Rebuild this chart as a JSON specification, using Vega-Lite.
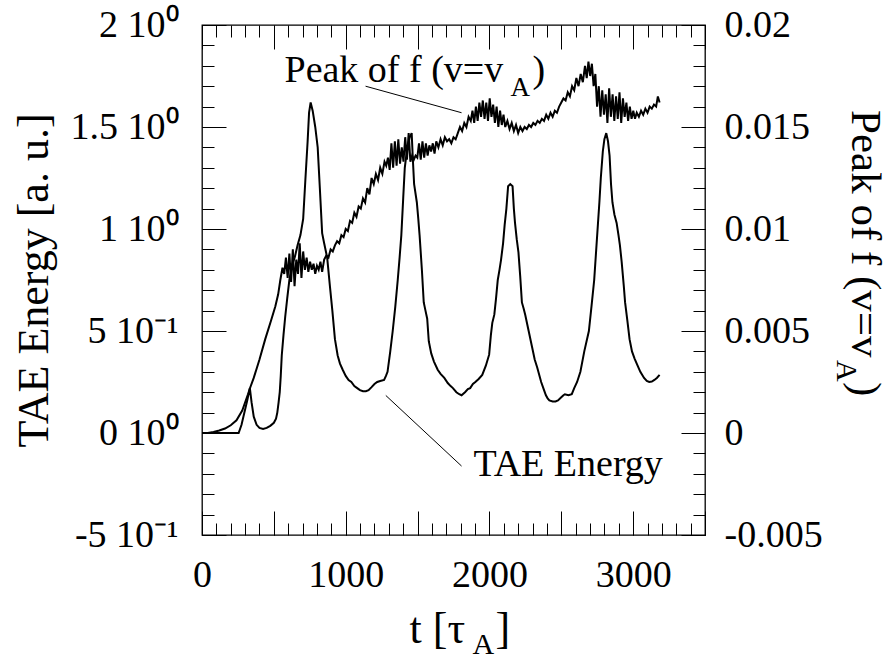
{
"$schema": "https://vega.github.io/schema/vega-lite/v6.json",
"width": 503, "height": 510,
"autosize": {"type": "none"},
"padding": {"left": 202, "top": 25, "right": 187, "bottom": 124},
"background": "white",
"config": {
  "font": "Liberation Serif",
  "view": {"stroke": "black", "strokeWidth": 1.3},
  "axis": {"grid": false, "domain": false, "tickColor": "black", "tickWidth": 1,
    "labelFont": "Liberation Serif", "labelFontSize": 38, "labelColor": "black",
    "titleFont": "Liberation Serif", "titleFontSize": 44, "titleFontWeight": "normal", "titleColor": "black",
    "labelFlush": false, "labelOverlap": false, "labelBound": false}
},
"datasets": {
  "tae": [
    {"t":0,"E":0},{"t":100,"E":0},{"t":200,"E":0},{"t":255,"E":0},{"t":275,"E":0.04},{"t":295,"E":0.1},{"t":315,"E":0.16},{"t":333,"E":0.22},{"t":345,"E":0.15},{"t":360,"E":0.08},{"t":380,"E":0.04},{"t":400,"E":0.025},{"t":425,"E":0.02},{"t":450,"E":0.025},{"t":475,"E":0.035},{"t":500,"E":0.05},{"t":515,"E":0.07},{"t":524,"E":0.1},{"t":533,"E":0.15},{"t":541,"E":0.2},{"t":548,"E":0.28},{"t":555,"E":0.38},{"t":567,"E":0.48},{"t":579,"E":0.57},{"t":593,"E":0.66},{"t":608,"E":0.75},{"t":625,"E":0.82},{"t":645,"E":0.86},{"t":665,"E":0.92},{"t":685,"E":0.97},{"t":704,"E":1.05},{"t":720,"E":1.25},{"t":735,"E":1.43},{"t":745,"E":1.57},{"t":756,"E":1.62},{"t":770,"E":1.58},{"t":788,"E":1.5},{"t":805,"E":1.4},{"t":820,"E":1.2},{"t":836,"E":0.98},{"t":850,"E":0.93},{"t":871,"E":0.86},{"t":890,"E":0.72},{"t":907,"E":0.6},{"t":925,"E":0.46},{"t":944,"E":0.38},{"t":960,"E":0.34},{"t":979,"E":0.31},{"t":1000,"E":0.28},{"t":1020,"E":0.26},{"t":1039,"E":0.25},{"t":1060,"E":0.23},{"t":1080,"E":0.22},{"t":1099,"E":0.21},{"t":1120,"E":0.205},{"t":1140,"E":0.205},{"t":1159,"E":0.21},{"t":1180,"E":0.225},{"t":1200,"E":0.24},{"t":1219,"E":0.25},{"t":1240,"E":0.255},{"t":1267,"E":0.26},{"t":1280,"E":0.28},{"t":1291,"E":0.3},{"t":1310,"E":0.4},{"t":1327,"E":0.5},{"t":1345,"E":0.62},{"t":1362,"E":0.75},{"t":1375,"E":0.86},{"t":1387,"E":0.97},{"t":1400,"E":1.15},{"t":1411,"E":1.3},{"t":1425,"E":1.38},{"t":1445,"E":1.45},{"t":1459,"E":1.47},{"t":1468,"E":1.33},{"t":1476,"E":1.22},{"t":1495,"E":1.13},{"t":1505,"E":1.05},{"t":1514,"E":0.97},{"t":1530,"E":0.8},{"t":1543,"E":0.64},{"t":1555,"E":0.6},{"t":1567,"E":0.56},{"t":1578,"E":0.45},{"t":1595,"E":0.39},{"t":1614,"E":0.35},{"t":1640,"E":0.31},{"t":1660,"E":0.29},{"t":1686,"E":0.27},{"t":1710,"E":0.245},{"t":1730,"E":0.23},{"t":1746,"E":0.22},{"t":1770,"E":0.2},{"t":1790,"E":0.19},{"t":1806,"E":0.185},{"t":1830,"E":0.2},{"t":1850,"E":0.215},{"t":1866,"E":0.22},{"t":1885,"E":0.24},{"t":1902,"E":0.25},{"t":1925,"E":0.265},{"t":1950,"E":0.285},{"t":1975,"E":0.33},{"t":1998,"E":0.384},{"t":2010,"E":0.48},{"t":2020,"E":0.54},{"t":2034,"E":0.58},{"t":2046,"E":0.66},{"t":2058,"E":0.75},{"t":2070,"E":0.8},{"t":2081,"E":0.85},{"t":2095,"E":0.93},{"t":2106,"E":1.02},{"t":2118,"E":1.1},{"t":2130,"E":1.21},{"t":2145,"E":1.22},{"t":2161,"E":1.21},{"t":2170,"E":1.1},{"t":2178,"E":1.03},{"t":2190,"E":0.95},{"t":2202,"E":0.885},{"t":2214,"E":0.77},{"t":2226,"E":0.64},{"t":2238,"E":0.61},{"t":2249,"E":0.58},{"t":2273,"E":0.5},{"t":2297,"E":0.42},{"t":2315,"E":0.36},{"t":2333,"E":0.32},{"t":2360,"E":0.25},{"t":2380,"E":0.21},{"t":2393,"E":0.185},{"t":2405,"E":0.17},{"t":2417,"E":0.16},{"t":2440,"E":0.155},{"t":2460,"E":0.155},{"t":2477,"E":0.16},{"t":2500,"E":0.175},{"t":2515,"E":0.185},{"t":2525,"E":0.19},{"t":2550,"E":0.185},{"t":2573,"E":0.19},{"t":2590,"E":0.22},{"t":2610,"E":0.25},{"t":2633,"E":0.3},{"t":2660,"E":0.4},{"t":2692,"E":0.5},{"t":2710,"E":0.62},{"t":2729,"E":0.75},{"t":2745,"E":0.92},{"t":2765,"E":1.13},{"t":2775,"E":1.25},{"t":2789,"E":1.38},{"t":2800,"E":1.44},{"t":2813,"E":1.47},{"t":2825,"E":1.43},{"t":2836,"E":1.36},{"t":2846,"E":1.22},{"t":2856,"E":1.13},{"t":2870,"E":1.07},{"t":2885,"E":1.03},{"t":2898,"E":0.97},{"t":2908,"E":0.92},{"t":2920,"E":0.84},{"t":2935,"E":0.72},{"t":2944,"E":0.64},{"t":2960,"E":0.55},{"t":2975,"E":0.46},{"t":2992,"E":0.4},{"t":3010,"E":0.365},{"t":3028,"E":0.335},{"t":3050,"E":0.3},{"t":3076,"E":0.27},{"t":3095,"E":0.255},{"t":3112,"E":0.25},{"t":3130,"E":0.252},{"t":3148,"E":0.26},{"t":3165,"E":0.27},{"t":3184,"E":0.285}
  ],
  "peak": [
    {"t":0,"P":0},{"t":40,"P":0},{"t":80,"P":0.00005},{"t":120,"P":0.00012},{"t":160,"P":0.00022},{"t":200,"P":0.00038},{"t":240,"P":0.00062},{"t":280,"P":0.0011},{"t":320,"P":0.0019},{"t":333,"P":0.00218},{"t":360,"P":0.0027},{"t":400,"P":0.0036},{"t":440,"P":0.0046},{"t":480,"P":0.0055},{"t":510,"P":0.0062},{"t":530,"P":0.0068},{"t":545,"P":0.0075},{"t":560,"P":0.0081},{"t":572,"P":0.0078},{"t":584,"P":0.0086},{"t":596,"P":0.0076},{"t":608,"P":0.0088},{"t":620,"P":0.0074},{"t":632,"P":0.009},{"t":644,"P":0.0072},{"t":656,"P":0.0085},{"t":668,"P":0.0078},{"t":680,"P":0.0093},{"t":692,"P":0.0076},{"t":704,"P":0.0089},{"t":716,"P":0.008},{"t":728,"P":0.0086},{"t":740,"P":0.0079},{"t":752,"P":0.0084},{"t":764,"P":0.008},{"t":776,"P":0.0083},{"t":788,"P":0.0078},{"t":800,"P":0.0082},{"t":812,"P":0.008},{"t":824,"P":0.0084},{"t":836,"P":0.0079},{"t":850,"P":0.0085},{"t":865,"P":0.0087},{"t":880,"P":0.0086},{"t":895,"P":0.009},{"t":910,"P":0.0089},{"t":925,"P":0.0092},{"t":940,"P":0.0094},{"t":955,"P":0.0093},{"t":970,"P":0.0097},{"t":985,"P":0.0096},{"t":1000,"P":0.01},{"t":1015,"P":0.0099},{"t":1030,"P":0.0104},{"t":1045,"P":0.0103},{"t":1060,"P":0.0108},{"t":1075,"P":0.0106},{"t":1090,"P":0.0111},{"t":1105,"P":0.011},{"t":1120,"P":0.0115},{"t":1135,"P":0.0113},{"t":1150,"P":0.012},{"t":1165,"P":0.0117},{"t":1180,"P":0.0125},{"t":1195,"P":0.0122},{"t":1210,"P":0.0127},{"t":1225,"P":0.0124},{"t":1240,"P":0.013},{"t":1255,"P":0.0127},{"t":1270,"P":0.0133},{"t":1282,"P":0.0131},{"t":1294,"P":0.0135},{"t":1306,"P":0.0129},{"t":1318,"P":0.0142},{"t":1330,"P":0.013},{"t":1342,"P":0.0143},{"t":1354,"P":0.0131},{"t":1366,"P":0.0144},{"t":1378,"P":0.0132},{"t":1390,"P":0.014},{"t":1402,"P":0.0133},{"t":1414,"P":0.0145},{"t":1426,"P":0.0134},{"t":1438,"P":0.0147},{"t":1450,"P":0.0133},{"t":1462,"P":0.0136},{"t":1474,"P":0.0134},{"t":1486,"P":0.0136},{"t":1498,"P":0.0135},{"t":1510,"P":0.0142},{"t":1522,"P":0.0134},{"t":1534,"P":0.0143},{"t":1546,"P":0.0135},{"t":1558,"P":0.0142},{"t":1570,"P":0.0136},{"t":1582,"P":0.0141},{"t":1594,"P":0.0138},{"t":1606,"P":0.0142},{"t":1618,"P":0.0137},{"t":1630,"P":0.0143},{"t":1645,"P":0.014},{"t":1660,"P":0.0144},{"t":1675,"P":0.0141},{"t":1690,"P":0.0145},{"t":1705,"P":0.0143},{"t":1720,"P":0.0144},{"t":1735,"P":0.0142},{"t":1750,"P":0.0145},{"t":1765,"P":0.0144},{"t":1780,"P":0.0147},{"t":1795,"P":0.015},{"t":1810,"P":0.0148},{"t":1825,"P":0.0152},{"t":1840,"P":0.015},{"t":1855,"P":0.0155},{"t":1870,"P":0.0153},{"t":1882,"P":0.0158},{"t":1894,"P":0.0152},{"t":1906,"P":0.016},{"t":1918,"P":0.0153},{"t":1930,"P":0.0162},{"t":1942,"P":0.0155},{"t":1954,"P":0.0163},{"t":1966,"P":0.0154},{"t":1978,"P":0.0162},{"t":1990,"P":0.0153},{"t":2002,"P":0.0164},{"t":2014,"P":0.0155},{"t":2026,"P":0.0161},{"t":2038,"P":0.0152},{"t":2050,"P":0.016},{"t":2062,"P":0.015},{"t":2074,"P":0.0158},{"t":2086,"P":0.0151},{"t":2098,"P":0.0156},{"t":2110,"P":0.015},{"t":2125,"P":0.0153},{"t":2140,"P":0.0149},{"t":2155,"P":0.0152},{"t":2170,"P":0.0148},{"t":2185,"P":0.0151},{"t":2200,"P":0.0147},{"t":2215,"P":0.015},{"t":2230,"P":0.0148},{"t":2245,"P":0.015},{"t":2260,"P":0.0149},{"t":2275,"P":0.0151},{"t":2290,"P":0.015},{"t":2305,"P":0.0152},{"t":2320,"P":0.0151},{"t":2335,"P":0.0153},{"t":2350,"P":0.0152},{"t":2365,"P":0.0154},{"t":2380,"P":0.0153},{"t":2395,"P":0.0156},{"t":2410,"P":0.0154},{"t":2425,"P":0.0157},{"t":2440,"P":0.0155},{"t":2455,"P":0.0158},{"t":2470,"P":0.0157},{"t":2485,"P":0.016},{"t":2500,"P":0.0162},{"t":2515,"P":0.0164},{"t":2530,"P":0.0163},{"t":2545,"P":0.0167},{"t":2560,"P":0.0165},{"t":2575,"P":0.017},{"t":2590,"P":0.0168},{"t":2605,"P":0.0174},{"t":2620,"P":0.017},{"t":2635,"P":0.0176},{"t":2650,"P":0.0172},{"t":2665,"P":0.018},{"t":2677,"P":0.0174},{"t":2689,"P":0.0182},{"t":2701,"P":0.0175},{"t":2713,"P":0.0181},{"t":2725,"P":0.017},{"t":2737,"P":0.0176},{"t":2749,"P":0.016},{"t":2761,"P":0.017},{"t":2773,"P":0.0155},{"t":2785,"P":0.0168},{"t":2797,"P":0.0156},{"t":2809,"P":0.0166},{"t":2821,"P":0.0152},{"t":2833,"P":0.0169},{"t":2845,"P":0.0155},{"t":2857,"P":0.0166},{"t":2869,"P":0.0153},{"t":2881,"P":0.0165},{"t":2893,"P":0.0154},{"t":2905,"P":0.0167},{"t":2917,"P":0.0152},{"t":2929,"P":0.0164},{"t":2941,"P":0.0155},{"t":2953,"P":0.0162},{"t":2965,"P":0.0153},{"t":2977,"P":0.016},{"t":2989,"P":0.0154},{"t":3001,"P":0.0158},{"t":3013,"P":0.0154},{"t":3025,"P":0.0157},{"t":3040,"P":0.0155},{"t":3055,"P":0.0158},{"t":3070,"P":0.0156},{"t":3085,"P":0.0159},{"t":3100,"P":0.0157},{"t":3115,"P":0.016},{"t":3130,"P":0.0159},{"t":3145,"P":0.0161},{"t":3160,"P":0.016},{"t":3172,"P":0.0165},{"t":3184,"P":0.0162}
  ]
},
"resolve": {"scale": {"y": "independent"}, "axis": {"x": "independent", "y": "independent"}},
"layer": [
  {"data": {"name": "tae"}, "mark": {"type": "line", "color": "black", "strokeWidth": 2},
   "encoding": {
     "x": {"field": "t", "type": "quantitative", "scale": {"domain": [0, 3500], "nice": false, "zero": false},
       "axis": {"orient": "bottom", "values": [0,500,1000,1500,2000,2500,3000,3500], "format": "d", "labelExpr": "datum.value % 1000 == 0 ? datum.label : ''", "tickSize": -24, "labelPadding": 45, "title": null}},
     "y": {"field": "E", "type": "quantitative", "scale": {"domain": [-0.5, 2], "nice": false, "zero": false},
       "axis": {"orient": "left", "values": [-0.5,0,0.5,1,1.5,2], "labelExpr": "datum.value == 0 ? '0 10⁰' : datum.value == 0.5 ? '5 10⁻¹' : datum.value == -0.5 ? '-5 10⁻¹' : datum.value + ' 10⁰'", "tickSize": -24, "labelPadding": 48, "title": "TAE Energy [a. u.]", "titlePadding": 14}}
   }},
  {"data": {"name": "tae"}, "mark": {"type": "line", "color": "black", "strokeOpacity": 0},
   "encoding": {
     "x": {"field": "t", "type": "quantitative", "scale": {"domain": [0, 3500], "nice": false, "zero": false},
       "axis": {"orient": "bottom", "values": [0,100,200,300,400,500,600,700,800,900,1000,1100,1200,1300,1400,1500,1600,1700,1800,1900,2000,2100,2200,2300,2400,2500,2600,2700,2800,2900,3000,3100,3200,3300,3400,3500], "labels": false, "tickSize": -12, "title": null}},
     "y": {"field": "E", "type": "quantitative", "scale": {"domain": [-0.5, 2], "nice": false, "zero": false},
       "axis": {"orient": "left", "values": [-0.5,-0.4,-0.3,-0.2,-0.1,0,0.1,0.2,0.3,0.4,0.5,0.6,0.7,0.8,0.9,1,1.1,1.2,1.3,1.4,1.5,1.6,1.7,1.8,1.9,2], "labels": false, "tickSize": -12, "title": null}}
   }},
  {"data": {"name": "peak"}, "mark": {"type": "line", "color": "black", "strokeWidth": 2},
   "encoding": {
     "x": {"field": "t", "type": "quantitative", "scale": {"domain": [0, 3500], "nice": false, "zero": false},
       "axis": {"orient": "top", "values": [0,500,1000,1500,2000,2500,3000,3500], "labels": false, "tickSize": -24, "title": null}},
     "y": {"field": "P", "type": "quantitative", "scale": {"domain": [-0.005, 0.02], "nice": false, "zero": false},
       "axis": {"orient": "right", "values": [-0.005,0,0.005,0.01,0.015,0.02], "labelExpr": "'' + datum.value", "tickSize": -24, "labelPadding": 43, "title": null}}
   }},
  {"data": {"name": "peak"}, "mark": {"type": "line", "color": "black", "strokeOpacity": 0},
   "encoding": {
     "x": {"field": "t", "type": "quantitative", "scale": {"domain": [0, 3500], "nice": false, "zero": false},
       "axis": {"orient": "top", "values": [0,100,200,300,400,500,600,700,800,900,1000,1100,1200,1300,1400,1500,1600,1700,1800,1900,2000,2100,2200,2300,2400,2500,2600,2700,2800,2900,3000,3100,3200,3300,3400,3500], "labels": false, "tickSize": -12, "title": null}},
     "y": {"field": "P", "type": "quantitative", "scale": {"domain": [-0.005, 0.02], "nice": false, "zero": false},
       "axis": {"orient": "right", "values": [-0.005,-0.004,-0.003,-0.002,-0.001,0,0.001,0.002,0.003,0.004,0.005,0.006,0.007,0.008,0.009,0.01,0.011,0.012,0.013,0.014,0.015,0.016,0.017,0.018,0.019,0.02], "labels": false, "tickSize": -12, "title": null}}
   }},
  {"data": {"values": [{}]}, "mark": {"type": "rule", "color": "black", "strokeWidth": 1},
   "encoding": {
     "x": {"datum": 1138, "type": "quantitative", "axis": null}, "x2": {"datum": 1806},
     "y": {"datum": 1.70, "type": "quantitative", "scale": {"domain": [-0.5, 2], "nice": false, "zero": false}, "axis": null}, "y2": {"datum": 1.57}
   }},
  {"data": {"values": [{}]}, "mark": {"type": "rule", "color": "black", "strokeWidth": 1},
   "encoding": {
     "x": {"datum": 1279, "type": "quantitative", "axis": null}, "x2": {"datum": 1806},
     "y": {"datum": 0.184, "type": "quantitative", "scale": {"domain": [-0.5, 2], "nice": false, "zero": false}, "axis": null}, "y2": {"datum": -0.162}
   }},
  {"data": {"values": [{}]}, "mark": {"type": "text", "text": "Peak of f (v=v", "fontSize": 38, "align": "left", "baseline": "alphabetic", "color": "black"},
   "encoding": {"x": {"datum": 574, "type": "quantitative", "axis": null}, "y": {"datum": 1.72, "type": "quantitative", "scale": {"domain": [-0.5, 2], "nice": false, "zero": false}, "axis": null}}},
  {"data": {"values": [{}]}, "mark": {"type": "text", "text": "A", "fontSize": 27, "align": "left", "baseline": "alphabetic", "color": "black", "dx": 226, "dy": 14},
   "encoding": {"x": {"datum": 574, "type": "quantitative", "axis": null}, "y": {"datum": 1.72, "type": "quantitative", "scale": {"domain": [-0.5, 2], "nice": false, "zero": false}, "axis": null}}},
  {"data": {"values": [{}]}, "mark": {"type": "text", "text": ")", "fontSize": 38, "align": "left", "baseline": "alphabetic", "color": "black", "dx": 248},
   "encoding": {"x": {"datum": 574, "type": "quantitative", "axis": null}, "y": {"datum": 1.72, "type": "quantitative", "scale": {"domain": [-0.5, 2], "nice": false, "zero": false}, "axis": null}}},
  {"data": {"values": [{}]}, "mark": {"type": "text", "text": "TAE Energy", "fontSize": 38, "align": "left", "baseline": "alphabetic", "color": "black"},
   "encoding": {"x": {"datum": 1889, "type": "quantitative", "axis": null}, "y": {"datum": -0.21, "type": "quantitative", "scale": {"domain": [-0.5, 2], "nice": false, "zero": false}, "axis": null}}},
  {"data": {"values": [{}]}, "mark": {"type": "text", "text": "t [τ", "fontSize": 44, "align": "left", "baseline": "alphabetic", "color": "black", "dy": 108},
   "encoding": {"x": {"datum": 1444, "type": "quantitative", "axis": null}, "y": {"datum": -0.5, "type": "quantitative", "scale": {"domain": [-0.5, 2], "nice": false, "zero": false}, "axis": null}}},
  {"data": {"values": [{}]}, "mark": {"type": "text", "text": "A", "fontSize": 30, "align": "left", "baseline": "alphabetic", "color": "black", "dx": 63, "dy": 119},
   "encoding": {"x": {"datum": 1444, "type": "quantitative", "axis": null}, "y": {"datum": -0.5, "type": "quantitative", "scale": {"domain": [-0.5, 2], "nice": false, "zero": false}, "axis": null}}},
  {"data": {"values": [{}]}, "mark": {"type": "text", "text": "]", "fontSize": 44, "align": "left", "baseline": "alphabetic", "color": "black", "dx": 86, "dy": 108},
   "encoding": {"x": {"datum": 1444, "type": "quantitative", "axis": null}, "y": {"datum": -0.5, "type": "quantitative", "scale": {"domain": [-0.5, 2], "nice": false, "zero": false}, "axis": null}}},
  {"data": {"values": [{}]}, "mark": {"type": "text", "text": "Peak of f (v=v", "fontSize": 43, "angle": 90, "align": "left", "baseline": "alphabetic", "color": "black", "dy": -147},
   "encoding": {"x": {"datum": 3500, "type": "quantitative", "axis": null}, "y": {"datum": 1.583, "type": "quantitative", "scale": {"domain": [-0.5, 2], "nice": false, "zero": false}, "axis": null}}},
  {"data": {"values": [{}]}, "mark": {"type": "text", "text": "A", "fontSize": 30, "angle": 90, "align": "left", "baseline": "alphabetic", "color": "black", "dx": 250, "dy": -132},
   "encoding": {"x": {"datum": 3500, "type": "quantitative", "axis": null}, "y": {"datum": 1.583, "type": "quantitative", "scale": {"domain": [-0.5, 2], "nice": false, "zero": false}, "axis": null}}},
  {"data": {"values": [{}]}, "mark": {"type": "text", "text": ")", "fontSize": 43, "angle": 90, "align": "left", "baseline": "alphabetic", "color": "black", "dx": 272, "dy": -147},
   "encoding": {"x": {"datum": 3500, "type": "quantitative", "axis": null}, "y": {"datum": 1.583, "type": "quantitative", "scale": {"domain": [-0.5, 2], "nice": false, "zero": false}, "axis": null}}}
]
}
